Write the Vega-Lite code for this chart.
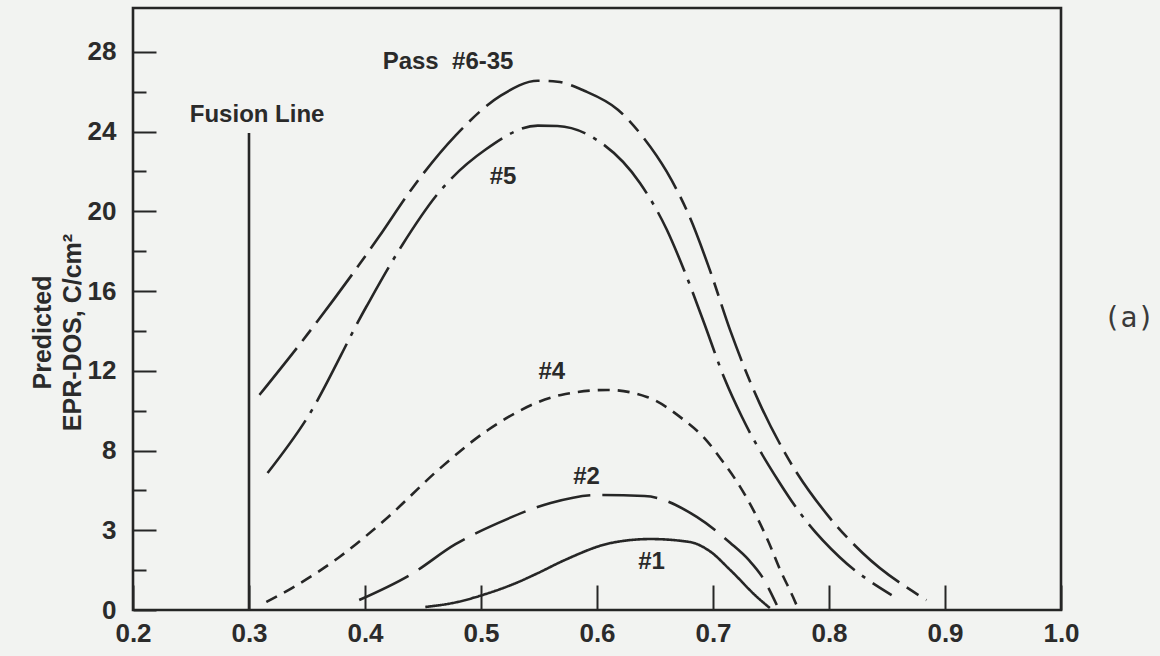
{
  "$schema": "https://vega.github.io/schema/vega-lite/v6.json",
  "width": 928,
  "height": 602,
  "autosize": {"type": "none"},
  "padding": {"left": 133, "top": 8, "right": 99, "bottom": 46},
  "background": "#f2f3f1",
  "config": {
    "view": {"stroke": "#252525", "strokeWidth": 2.6},
    "font": "Liberation Sans"
  },
  "datasets": {
    "curves": [
      {"pass": "#6-35", "x": 0.309, "y": 10.79},
      {"pass": "#6-35", "x": 0.350, "y": 13.80},
      {"pass": "#6-35", "x": 0.412, "y": 18.72},
      {"pass": "#6-35", "x": 0.440, "y": 21.10},
      {"pass": "#6-35", "x": 0.478, "y": 23.80},
      {"pass": "#6-35", "x": 0.517, "y": 25.80},
      {"pass": "#6-35", "x": 0.549, "y": 26.55},
      {"pass": "#6-35", "x": 0.566, "y": 26.50},
      {"pass": "#6-35", "x": 0.589, "y": 26.05},
      {"pass": "#6-35", "x": 0.618, "y": 25.10},
      {"pass": "#6-35", "x": 0.640, "y": 23.70},
      {"pass": "#6-35", "x": 0.660, "y": 22.00},
      {"pass": "#6-35", "x": 0.680, "y": 19.70},
      {"pass": "#6-35", "x": 0.697, "y": 17.10},
      {"pass": "#6-35", "x": 0.715, "y": 14.00},
      {"pass": "#6-35", "x": 0.740, "y": 10.39},
      {"pass": "#6-35", "x": 0.762, "y": 7.88},
      {"pass": "#6-35", "x": 0.800, "y": 4.67},
      {"pass": "#6-35", "x": 0.829, "y": 2.86},
      {"pass": "#6-35", "x": 0.884, "y": 0.50},
      {"pass": "#5", "x": 0.316, "y": 6.87},
      {"pass": "#5", "x": 0.349, "y": 9.53},
      {"pass": "#5", "x": 0.401, "y": 15.20},
      {"pass": "#5", "x": 0.432, "y": 18.30},
      {"pass": "#5", "x": 0.463, "y": 20.90},
      {"pass": "#5", "x": 0.504, "y": 23.10},
      {"pass": "#5", "x": 0.549, "y": 24.30},
      {"pass": "#5", "x": 0.566, "y": 24.28},
      {"pass": "#5", "x": 0.598, "y": 23.65},
      {"pass": "#5", "x": 0.637, "y": 21.42},
      {"pass": "#5", "x": 0.660, "y": 19.10},
      {"pass": "#5", "x": 0.675, "y": 17.06},
      {"pass": "#5", "x": 0.692, "y": 14.45},
      {"pass": "#5", "x": 0.710, "y": 11.60},
      {"pass": "#5", "x": 0.725, "y": 9.68},
      {"pass": "#5", "x": 0.757, "y": 6.42},
      {"pass": "#5", "x": 0.775, "y": 4.87},
      {"pass": "#5", "x": 0.809, "y": 2.66},
      {"pass": "#5", "x": 0.854, "y": 0.75},
      {"pass": "#4", "x": 0.315, "y": 0.40},
      {"pass": "#4", "x": 0.337, "y": 1.10},
      {"pass": "#4", "x": 0.378, "y": 2.66},
      {"pass": "#4", "x": 0.420, "y": 4.67},
      {"pass": "#4", "x": 0.463, "y": 7.02},
      {"pass": "#4", "x": 0.506, "y": 9.03},
      {"pass": "#4", "x": 0.569, "y": 10.79},
      {"pass": "#4", "x": 0.609, "y": 11.04},
      {"pass": "#4", "x": 0.643, "y": 10.69},
      {"pass": "#4", "x": 0.675, "y": 9.53},
      {"pass": "#4", "x": 0.693, "y": 8.60},
      {"pass": "#4", "x": 0.709, "y": 7.40},
      {"pass": "#4", "x": 0.721, "y": 6.40},
      {"pass": "#4", "x": 0.734, "y": 5.10},
      {"pass": "#4", "x": 0.748, "y": 3.40},
      {"pass": "#4", "x": 0.758, "y": 2.00},
      {"pass": "#4", "x": 0.769, "y": 0.65},
      {"pass": "#4", "x": 0.772, "y": 0.25},
      {"pass": "#2", "x": 0.395, "y": 0.50},
      {"pass": "#2", "x": 0.440, "y": 1.80},
      {"pass": "#2", "x": 0.478, "y": 3.30},
      {"pass": "#2", "x": 0.515, "y": 4.37},
      {"pass": "#2", "x": 0.560, "y": 5.37},
      {"pass": "#2", "x": 0.600, "y": 5.77},
      {"pass": "#2", "x": 0.641, "y": 5.72},
      {"pass": "#2", "x": 0.686, "y": 4.67},
      {"pass": "#2", "x": 0.715, "y": 3.36},
      {"pass": "#2", "x": 0.731, "y": 2.50},
      {"pass": "#2", "x": 0.742, "y": 1.70},
      {"pass": "#2", "x": 0.755, "y": 0.25},
      {"pass": "#1", "x": 0.452, "y": 0.15},
      {"pass": "#1", "x": 0.478, "y": 0.38},
      {"pass": "#1", "x": 0.504, "y": 0.80},
      {"pass": "#1", "x": 0.530, "y": 1.35},
      {"pass": "#1", "x": 0.549, "y": 1.85},
      {"pass": "#1", "x": 0.572, "y": 2.50},
      {"pass": "#1", "x": 0.612, "y": 3.36},
      {"pass": "#1", "x": 0.646, "y": 3.56},
      {"pass": "#1", "x": 0.680, "y": 3.41},
      {"pass": "#1", "x": 0.697, "y": 2.96},
      {"pass": "#1", "x": 0.715, "y": 2.00},
      {"pass": "#1", "x": 0.738, "y": 0.65},
      {"pass": "#1", "x": 0.749, "y": 0.10}
    ],
    "fusion": [{"x": 0.3, "y0": 0, "y1": 23.93}],
    "labels": [
      {"label": "Fusion Line", "x": 0.307, "y": 24.84},
      {"label": "Pass\u00a0 #6-35", "x": 0.4716, "y": 27.5},
      {"label": "#5", "x": 0.519, "y": 21.73},
      {"label": "#4", "x": 0.561, "y": 11.94},
      {"label": "#2", "x": 0.591, "y": 6.67},
      {"label": "#1", "x": 0.647, "y": 2.41}
    ],
    "side": [{"label": "(a)", "x": 1.0586, "y": 14.6}]
  },
  "layer": [
    {
      "data": {"name": "curves"},
      "mark": {"type": "line", "interpolate": "monotone", "strokeWidth": 2.6, "color": "#262626", "strokeCap": "butt"},
      "encoding": {
        "x": {
          "field": "x", "type": "quantitative",
          "scale": {"domain": [0.2, 1.0], "nice": false, "zero": false},
          "axis": {
            "title": null,
            "values": [0.2, 0.3, 0.4, 0.5, 0.6, 0.7, 0.8, 0.9, 1.0],
            "format": ".1f",
            "domain": false,
            "grid": false,
            "tickSize": -25,
            "tickWidth": 2,
            "tickColor": "#262626",
            "labelFontSize": 26,
            "labelFontWeight": "bold",
            "labelColor": "#2b2b2b",
            "labelPadding": 35,
            "labelFlush": false,
            "labelOverlap": false
          }
        },
        "y": {
          "field": "y", "type": "quantitative",
          "scale": {"domain": [0, 30.2], "nice": false},
          "axis": {
            "values": [0, 2, 4, 6, 8, 10, 12, 14, 16, 18, 20, 22, 24, 26, 28],
            "labelExpr": "datum.value % 4 === 0 ? (datum.value === 4 ? '3' : datum.label) : ''",
            "domain": false,
            "grid": false,
            "tickSize": {"condition": {"test": "datum.value % 4 === 0", "value": -23}, "value": -13},
            "tickWidth": 2,
            "tickColor": "#262626",
            "labelFontSize": 26,
            "labelFontWeight": "bold",
            "labelColor": "#2b2b2b",
            "labelPadding": 40,
            "labelOverlap": false,
            "labelFlush": false,
            "title": ["Predicted", "EPR-DOS, C/cm\u00b2"],
            "titleFontSize": 25,
            "titleFontWeight": "bold",
            "titleColor": "#2b2b2b",
            "titleAngle": -90,
            "titleAlign": "center",
            "titleBaseline": "middle",
            "titleLineHeight": 30,
            "titleX": -91,
            "titleY": 324
          }
        },
        "strokeDash": {
          "field": "pass", "type": "nominal",
          "scale": {"domain": ["#1", "#2", "#4", "#5", "#6-35"], "range": [[1, 0], [55, 12], [12, 8], [65, 9, 4, 9], [60, 9, 14, 9]]},
          "legend": null
        }
      }
    },
    {
      "data": {"name": "fusion"},
      "mark": {"type": "rule", "strokeWidth": 2.6, "color": "#262626"},
      "encoding": {
        "x": {"field": "x", "type": "quantitative"},
        "y": {"field": "y0", "type": "quantitative"},
        "y2": {"field": "y1"}
      }
    },
    {
      "data": {"name": "labels"},
      "mark": {"type": "text", "fontWeight": "bold", "fontSize": 24, "color": "#2a2a2a", "align": "center", "baseline": "middle"},
      "encoding": {
        "x": {"field": "x", "type": "quantitative"},
        "y": {"field": "y", "type": "quantitative"},
        "text": {"field": "label"}
      }
    },
    {
      "data": {"name": "side"},
      "mark": {"type": "text", "font": "DejaVu Sans Mono", "fontSize": 28, "color": "#3a3a3a", "align": "center", "baseline": "middle", "clip": false},
      "encoding": {
        "x": {"field": "x", "type": "quantitative"},
        "y": {"field": "y", "type": "quantitative"},
        "text": {"field": "label"}
      }
    }
  ]
}
